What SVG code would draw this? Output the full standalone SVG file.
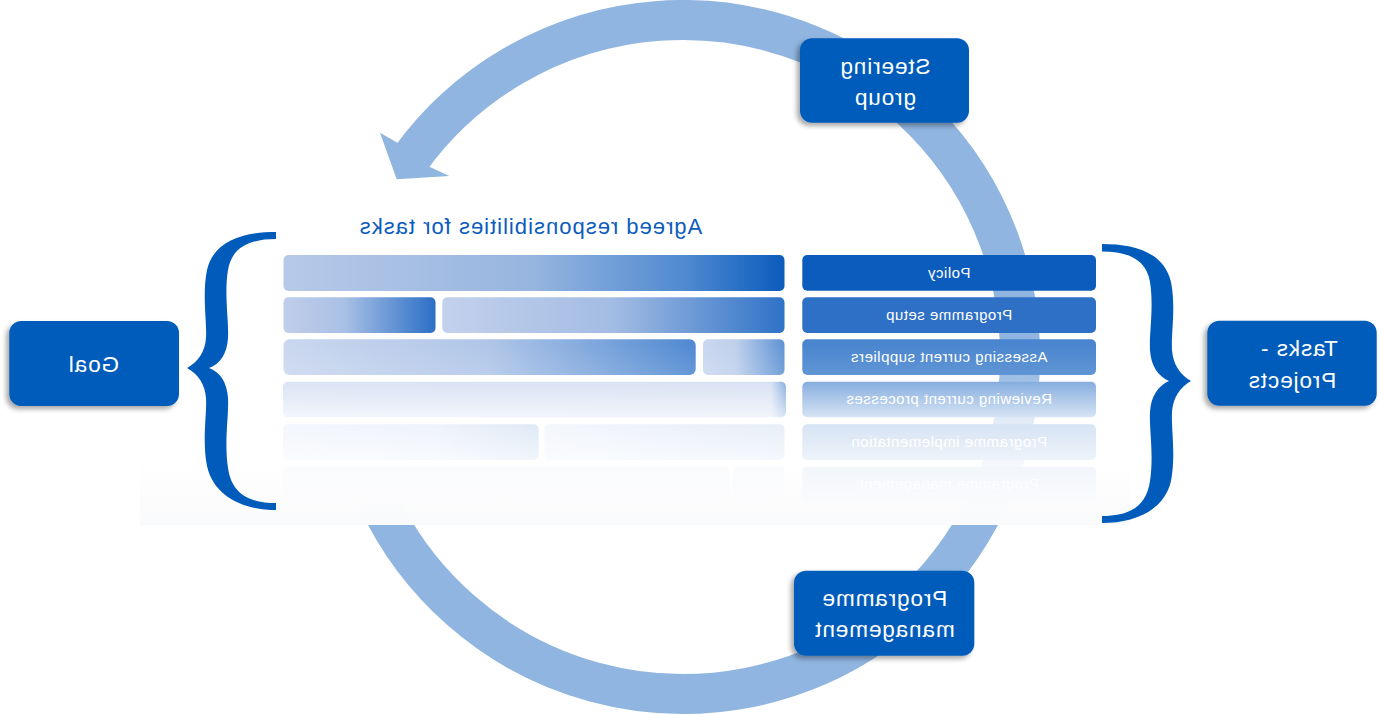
<svg xmlns="http://www.w3.org/2000/svg" width="1380" height="715" viewBox="0 0 1380 715">
<defs>
<style>
text{font-family:"Liberation Sans",Arial,sans-serif;text-anchor:middle}
.lbl{font-size:22.5px;fill:#fff;letter-spacing:0.9px}
.rt{font-size:15px;fill:#fff;letter-spacing:0.5px}
.title{font-size:22px;fill:#0B5CBC;letter-spacing:1px}
.box{fill:#005BBB;filter:url(#sh)}
.brace{fill:#005BBB}
.ring{fill:none;stroke:#8FB5E0;stroke-width:40}
</style>
<filter id="sh" x="-20%" y="-20%" width="140%" height="150%">
<feDropShadow dx="-3" dy="3" stdDeviation="2.5" flood-color="#000" flood-opacity="0.35"/>
</filter>
<linearGradient id="g1"><stop offset="0" stop-color="#B7C9E8"/><stop offset="0.5" stop-color="#96B5DF"/><stop offset="0.8" stop-color="#508AD1"/><stop offset="1" stop-color="#0B5CBC"/></linearGradient>
<linearGradient id="g2a"><stop offset="0" stop-color="#C0CEEA"/><stop offset="0.4" stop-color="#A9C0E5"/><stop offset="1" stop-color="#2B6FC6"/></linearGradient>
<linearGradient id="g2b"><stop offset="0" stop-color="#C3D1EC"/><stop offset="0.5" stop-color="#A3BCE3"/><stop offset="1" stop-color="#2F72C7"/></linearGradient>
<linearGradient id="g3a"><stop offset="0" stop-color="#CAD7EF"/><stop offset="0.5" stop-color="#B0C6E8"/><stop offset="1" stop-color="#4F89D1"/></linearGradient>
<linearGradient id="g3b"><stop offset="0" stop-color="#CAD7EF"/><stop offset="0.4" stop-color="#BFD0EC"/><stop offset="1" stop-color="#5F93D4"/></linearGradient>
<linearGradient id="g4"><stop offset="0" stop-color="#D3DEF2"/><stop offset="0.97" stop-color="#D0DCF1"/><stop offset="1" stop-color="#6E9DD8"/></linearGradient>
<linearGradient id="g5a"><stop offset="0" stop-color="#D0DCF1"/><stop offset="0.6" stop-color="#BDD0EE"/><stop offset="1" stop-color="#7AA5DB"/></linearGradient>
<linearGradient id="g5b"><stop offset="0" stop-color="#D2DDF1"/><stop offset="1" stop-color="#9CBCE4"/></linearGradient>
<linearGradient id="fade" gradientUnits="userSpaceOnUse" x1="0" y1="345" x2="0" y2="525">
<stop offset="0" stop-color="#FFFFFF" stop-opacity="0"/>
<stop offset="0.194" stop-color="#FFFFFF" stop-opacity="0.15"/>
<stop offset="0.4" stop-color="#FFFFFF" stop-opacity="0.72"/>
<stop offset="0.639" stop-color="#FFFFFF" stop-opacity="0.9"/>
<stop offset="0.861" stop-color="#FCFCFD" stop-opacity="0.985"/>
<stop offset="1" stop-color="#F9FAFB" stop-opacity="1"/>
</linearGradient>
</defs>
<rect width="1380" height="715" fill="#FFFFFF"/>

<g id="connectors">
<path class="ring" d="M377.6,499.4 A337,337 0 1 0 410.4,158.9"/>
<polygon fill="#8FB5E0" points="397.4,142.8 380,132.7 396.7,179.3 449.3,176 429.4,166.8"/>
</g>

<g id="table">
<g id="cells">
<rect x="283.5" y="255" width="501" height="36" rx="5" fill="url(#g1)"/>
<rect x="283.5" y="297.3" width="152" height="35.7" rx="5" fill="url(#g2a)"/>
<rect x="442.3" y="297.3" width="342.2" height="35.7" rx="5" fill="url(#g2b)"/>
<rect x="283.5" y="339.3" width="412.2" height="35.7" rx="6" fill="url(#g3a)"/>
<rect x="703" y="339.3" width="81.5" height="35.7" rx="5" fill="url(#g3b)"/>
<rect x="283" y="381.7" width="503" height="35.6" rx="5" fill="url(#g4)"/>
<rect x="283" y="424.3" width="255.6" height="35.7" rx="5" fill="url(#g5a)"/>
<rect x="544.3" y="424.3" width="240.2" height="35.7" rx="5" fill="url(#g5b)"/>
<rect x="283" y="466.7" width="446.5" height="35.5" rx="5" fill="#D2DDF1"/>
<rect x="733" y="466.7" width="51.5" height="35.5" rx="5" fill="#D2DDF1"/>
</g>
<g id="row-policy"><rect x="802.3" y="255" width="293.7" height="35.7" rx="5" fill="#0B5CBC"/><text class="rt" transform="matrix(-1 0 0 1 1898 0)" x="949" y="277.5">Policy</text></g>
<g id="row-setup"><rect x="802.3" y="297.3" width="293.7" height="35.7" rx="5" fill="#2E70C6"/><text class="rt" transform="matrix(-1 0 0 1 1898 0)" x="949" y="319.8">Programme setup</text></g>
<g id="row-suppliers"><rect x="802.3" y="339.3" width="293.7" height="35.7" rx="5" fill="#4A86CF"/><text class="rt" transform="matrix(-1 0 0 1 1898 0)" x="949" y="361.8">Assessing current suppliers</text></g>
<g id="row-processes"><rect x="802.3" y="381.7" width="293.7" height="35.6" rx="5" fill="#6C9CD8"/><text class="rt" transform="matrix(-1 0 0 1 1898 0)" x="949" y="404.2">Reviewing current processes</text></g>
<g id="row-implementation"><rect x="802.3" y="424.3" width="293.7" height="35.7" rx="5" fill="#5A90D3"/><text class="rt" transform="matrix(-1 0 0 1 1898 0)" x="949" y="446.8">Programme implementation</text></g>
<g id="row-management"><rect x="802.3" y="466.7" width="293.7" height="35.5" rx="5" fill="#6C9BD8"/><text class="rt" transform="matrix(-1 0 0 1 1898 0)" x="949" y="489.2">Programme management</text></g>
</g>

<rect id="fade-overlay" x="140" y="345" width="990" height="180" fill="url(#fade)"/>

<g id="brace-left">
<path class="brace" d="M276,232 C244,232 214,240 207,270 C202,295 207,322 206,338 C205,352 198,362 187,368 C198,374 205,384 206,398 C207,414 202,441 207,466 C214,497 244,510 276,510 L276,503 C252,503 232,496 228,468 C224,442 229,415 228,398 C227,382 220,372 209,368 C220,364 227,354 228,338 C229,321 224,294 228,270 C232,246 252,239 276,239 Z"/>
</g>
<g id="brace-right">
<path class="brace" d="M1102,244 C1134,244 1164,252 1171,282 C1176,307 1171,334 1172,350 C1173,364 1180,375 1191,381 C1180,387 1173,398 1172,412 C1171,428 1176,455 1171,481 C1164,511 1134,523 1102,523 L1102,516 C1126,516 1146,509 1150,481 C1154,455 1149,428 1150,412 C1151,396 1158,386 1169,381 C1158,376 1151,366 1150,350 C1149,334 1154,307 1150,282 C1146,258 1126,251.5 1102,251.5 Z"/>
</g>

<g id="title">
<text class="title" transform="matrix(-1 0 0 1 1061 0)" x="530.5" y="234">Agreed responsibilities for tasks</text>
</g>

<g id="goal">
<rect class="box" x="9.3" y="321" width="169.7" height="85" rx="12"/>
<text class="lbl" transform="matrix(-1 0 0 1 187 0)" x="93.5" y="371.5">Goal</text>
</g>
<g id="steering">
<rect class="box" x="800" y="38.3" width="169" height="84.4" rx="12"/>
<text class="lbl" transform="matrix(-1 0 0 1 1770 0)" x="885" y="73.5">Steering</text>
<text class="lbl" transform="matrix(-1 0 0 1 1770 0)" x="885" y="105">group</text>
</g>
<g id="programme-management">
<rect class="box" x="794" y="570.7" width="180.3" height="85" rx="12"/>
<text class="lbl" transform="matrix(-1 0 0 1 1769 0)" x="884.5" y="606">Programme</text>
<text class="lbl" transform="matrix(-1 0 0 1 1769 0)" x="884.5" y="637">management</text>
</g>
<g id="tasks-projects">
<rect class="box" x="1207.3" y="320.7" width="169.4" height="85" rx="12"/>
<text class="lbl" transform="matrix(-1 0 0 1 2598 0)" x="1299" y="356">Tasks -</text>
<text class="lbl" transform="matrix(-1 0 0 1 2584 0)" x="1292" y="387.5">Projects</text>
</g>
</svg>
